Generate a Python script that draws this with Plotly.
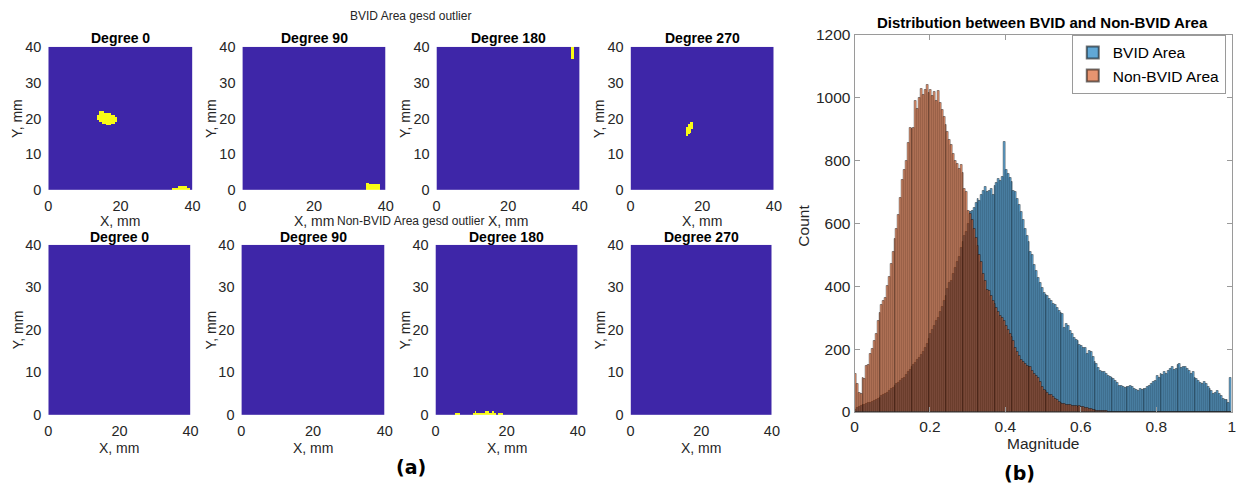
import numpy as np
import plotly.graph_objects as go

W, H = 1243, 487
# measured mapping of the photographed page: photo = S * figure_px + O
SX, OX = 0.995, 2.5
SY, OY = 0.97, 7.0

# ---------------- data ----------------
degrees = ["Degree 0", "Degree 90", "Degree 180", "Degree 270"]
grid_res_mm = 0.5
grid_size_mm = 40

# outlier runs: (y_mm, x_from_mm, x_to_mm)  -> cells flagged as outliers
bvid_outliers = {
    "Degree 0": [(21.5, 14.0, 15.5), (21.0, 14.0, 17.5), (20.5, 13.5, 18.5), (20.0, 13.5, 19.0),
                 (19.5, 13.5, 19.0), (19.0, 14.0, 19.0), (18.5, 15.0, 18.5), (18.0, 16.0, 17.5),
                 (0.5, 36.0, 38.5), (0.0, 34.5, 39.5)],
    "Degree 90": [(1.5, 34.5, 35.5), (1.0, 34.5, 38.5), (0.5, 34.5, 38.5), (0.0, 34.5, 38.5)],
    "Degree 180": [(39.5, 37.5, 38.5), (39.0, 37.5, 38.5), (38.5, 37.5, 38.5), (38.0, 37.5, 38.5),
                   (37.5, 37.5, 38.5), (37.0, 37.5, 38.5), (36.5, 37.5, 38.5)],
    "Degree 270": [(18.5, 16.5, 17.5), (18.0, 16.0, 17.5), (17.5, 16.0, 17.5), (17.0, 15.5, 17.5),
                   (16.5, 15.5, 17.0), (16.0, 15.5, 17.0), (15.5, 15.5, 16.5), (15.0, 15.5, 16.0)],
}
nonbvid_outliers = {
    "Degree 0": [],
    "Degree 90": [],
    "Degree 180": [(0.0, 5.5, 7.0), (0.5, 11.0, 11.5), (0.0, 10.5, 17.0), (0.5, 14.0, 15.0),
                   (0.5, 16.0, 16.5), (0.0, 17.5, 19.0)],
    "Degree 270": [],
}

bin_width = 0.005
bvid_counts = [
    8, 12, 16, 18, 22, 24, 26, 28, 30, 32,
    35, 38, 42, 45, 50, 55, 58, 62, 66, 72,
    76, 82, 88, 92, 98, 104, 110, 118, 128, 135,
    142, 150, 156, 165, 172, 182, 192, 205, 218, 232,
    247, 262, 275, 290, 300, 318, 335, 353, 370, 392,
    410, 416, 440, 460, 479, 495, 521, 540, 560, 574,
    600, 637, 640, 648, 665, 679, 672, 690, 705, 716,
    700, 705, 711, 690, 721, 730, 742, 735, 748, 858,
    769, 758, 745, 732, 705, 700, 679, 660, 637, 610,
    584, 560, 542, 511, 500, 469, 450, 426, 411, 395,
    379, 372, 368, 360, 353, 345, 342, 330, 321, 315,
    311, 268, 280, 274, 258, 250, 237, 230, 226, 215,
    211, 205, 205, 184, 195, 190, 174, 160, 153, 140,
    132, 128, 126, 120, 116, 112, 110, 104, 100, 92,
    84, 82, 79, 78, 80, 79, 84, 80, 74, 70,
    68, 72, 70, 72, 74, 80, 84, 90, 95, 98,
    116, 110, 121, 118, 126, 122, 132, 138, 142, 135,
    137, 150, 153, 140, 142, 145, 138, 132, 121, 126,
    110, 105, 100, 92, 90, 95, 90, 79, 75, 68,
    58, 62, 68, 58, 50, 42, 40, 37, 30, 110,
]
nonbvid_counts = [
    120, 90, 60, 58, 110, 105, 147, 150, 184, 200,
    226, 250, 290, 315, 342, 353, 363, 400, 430, 470,
    510, 550, 584, 627, 680, 740, 770, 800, 855, 905,
    900, 905, 990, 965, 1000, 1028, 1010, 1025, 1040, 1015,
    1024, 1005, 1019, 990, 1022, 985, 960, 940, 915, 890,
    865, 850, 820, 800, 790, 775, 785, 760, 710, 700,
    640, 630, 610, 584, 555, 530, 500, 479, 440, 416,
    390, 384, 368, 355, 345, 332, 320, 305, 298, 290,
    275, 262, 250, 240, 225, 205, 190, 180, 165, 158,
    153, 148, 145, 142, 130, 122, 115, 110, 95, 80,
    70, 66, 60, 55, 53, 48, 42, 37, 33, 30,
    26, 25, 23, 21, 22, 19, 20, 18, 17, 18,
    16, 15, 14, 12, 10, 9, 7, 6, 5, 4,
    3, 3, 2, 2, 1, 1, 1, 1, 0, 0,
    0, 0, 0, 0, 0, 0, 0, 0, 0, 0,
    0, 0, 0, 0, 0, 0, 0, 0, 0, 0,
    0, 0, 0, 0, 0, 0, 0, 0, 0, 0,
    0, 0, 0, 0, 0, 0, 0, 0, 0, 0,
    0, 0, 0, 0, 0, 0, 0, 0, 0, 0,
    0, 0, 0, 0, 0, 0, 0, 0, 0, 0,
]

# ---------------- helpers (target pixel -> paper coords) ----------------
def px(xp):
    return ((xp - OX) / SX) / W

def py(yp):
    return 1 - ((yp - OY) / SY) / H

def clamp(v):
    return min(1.0, max(0.0, v))

def xdom(a, b):
    return [clamp(px(a)), clamp(px(b))]

def ydom(top, bottom):
    return [clamp(py(bottom)), clamp(py(top))]

n_cells = int(grid_size_mm / grid_res_mm)
centers = (np.arange(n_cells) + 0.5) * grid_res_mm

def build_mask(runs):
    z = np.zeros((n_cells, n_cells))
    for (yv, x0, x1) in runs:
        r = int(round(yv / grid_res_mm))
        c0 = int(round(x0 / grid_res_mm))
        c1 = int(round(x1 / grid_res_mm))
        z[r, c0:c1] = 1
    return z

FONT = "Liberation Sans, Arial, sans-serif"
TXT = "#262626"
BLUE_P = "#3E26A8"
YEL_P = "#F9FB15"

fig = go.Figure()
layout = dict(
    width=W, height=H, margin=dict(l=0, r=0, t=0, b=0),
    paper_bgcolor="white", plot_bgcolor="white",
    showlegend=True, barmode="overlay", bargap=0,
    font=dict(family=FONT, color=TXT, size=13),
)
annotations = []

def note(text, x, y, size, color=TXT, angle=0, family=FONT):
    annotations.append(dict(text=text, x=px(x), y=py(y), xref="paper", yref="paper", showarrow=False,
                            textangle=angle, xanchor="center", yanchor="middle",
                            font=dict(size=size, color=color, family=family)))

top_x = [(47, 192), (242, 386), (437, 581), (632, 776)]
bot_x = [(47, 190), (241, 385), (436, 579), (632, 774)]
rows = [
    (bvid_outliers, top_x, (45, 189), 36, 220, "BVID Area gesd outlier", 14),
    (nonbvid_outliers, bot_x, (244, 415), 236, 448, "Non-BVID Area gesd outlier", 220),
]

ax = 0
for outl, xs, (yt, yb), title_y, xlab_y, sup, sup_y in rows:
    note(sup, 411, sup_y, 12)
    for (xa, xb), name in zip(xs, degrees):
        ax += 1
        xk = "x" if ax == 1 else f"x{ax}"
        yk = "y" if ax == 1 else f"y{ax}"
        z = build_mask(outl[name])
        fig.add_trace(go.Heatmap(z=z, x=centers, y=centers, zmin=0, zmax=1,
                                 colorscale=[[0, BLUE_P], [1, YEL_P]], showscale=False,
                                 showlegend=False, xaxis=xk, yaxis=yk, hoverinfo="skip"))
        layout[f"xaxis{'' if ax == 1 else ax}"] = dict(
            domain=xdom(xa, xb), anchor=yk, range=[0, 40], tickvals=[0, 20, 40],
            ticks="outside", ticklen=3, tickcolor="rgba(0,0,0,0)", showgrid=False, zeroline=False,
            showline=False, tickfont=dict(size=14.5, color=TXT, family=FONT), fixedrange=True)
        layout[f"yaxis{'' if ax == 1 else ax}"] = dict(
            domain=ydom(yt, yb), anchor=xk, range=[0, 40], tickvals=[0, 10, 20, 30, 40],
            ticks="outside", ticklen=3, tickcolor="rgba(0,0,0,0)", showgrid=False, zeroline=False,
            showline=False, tickfont=dict(size=14.5, color=TXT, family=FONT), fixedrange=True)
        cx = (xa + xb) / 2
        note(f"<b>{name}</b>", cx, title_y, 14, color="#000000")
        note("X, mm", cx, xlab_y, 14)
        note("Y, mm", xa - 31, (yt + yb) / 2, 14, angle=-90)

# ---------------- histogram ----------------
ax += 1
hx = f"x{ax}"
hy = f"y{ax}"
bin_centers = np.arange(len(bvid_counts)) * bin_width + bin_width / 2
edge = dict(color="rgba(0,0,0,0.55)", width=0.7)
fig.add_trace(go.Bar(x=bin_centers, y=bvid_counts, width=bin_width, name="BVID Area",
                     marker=dict(color="rgba(0,114,189,0.62)", line=edge),
                     xaxis=hx, yaxis=hy))
fig.add_trace(go.Bar(x=bin_centers, y=nonbvid_counts, width=bin_width, name="Non-BVID Area",
                     marker=dict(color="rgba(217,83,25,0.62)", line=edge),
                     xaxis=hx, yaxis=hy))
axis_line = "#9a9a9a"
layout[f"xaxis{ax}"] = dict(domain=xdom(857, 1236), anchor=hy, range=[0, 1],
                            tickvals=[0, 0.2, 0.4, 0.6, 0.8, 1], ticktext=["0", "0.2", "0.4", "0.6", "0.8", "1"],
                            ticks="inside", ticklen=5, tickcolor=axis_line, showline=True, linecolor=axis_line,
                            linewidth=1, mirror="ticks", showgrid=False, zeroline=False,
                            tickfont=dict(size=15.5, color=TXT, family=FONT), fixedrange=True)
layout[f"yaxis{ax}"] = dict(domain=ydom(33, 412), anchor=hx, range=[0, 1200],
                            tickvals=[0, 200, 400, 600, 800, 1000, 1200],
                            ticks="inside", ticklen=5, tickcolor=axis_line, showline=True, linecolor=axis_line,
                            linewidth=1, mirror="ticks", showgrid=False, zeroline=False,
                            tickfont=dict(size=15.5, color=TXT, family=FONT), fixedrange=True)
layout["legend"] = dict(x=clamp(px(1230)), y=py(33), xanchor="right", yanchor="top",
                        bgcolor="white", bordercolor="#9a9a9a", borderwidth=1,
                        font=dict(size=15.5, color="#000000", family=FONT),
                        tracegroupgap=0, itemwidth=30, itemsizing="constant")

note("<b>Distribution between BVID and Non-BVID Area</b>", 1046, 21, 15, color="#000000")
note("Count", 806, 225, 15.5, angle=-90)
note("Magnitude", 1046, 444, 15.5)
note("<b>(a)</b>", 411, 467, 19, color="#000000", family="DejaVu Sans")
note("<b>(b)</b>", 1023, 473, 19, color="#000000", family="DejaVu Sans")

layout["annotations"] = annotations
fig.update_layout(**layout)
fig.write_html("out.html")
